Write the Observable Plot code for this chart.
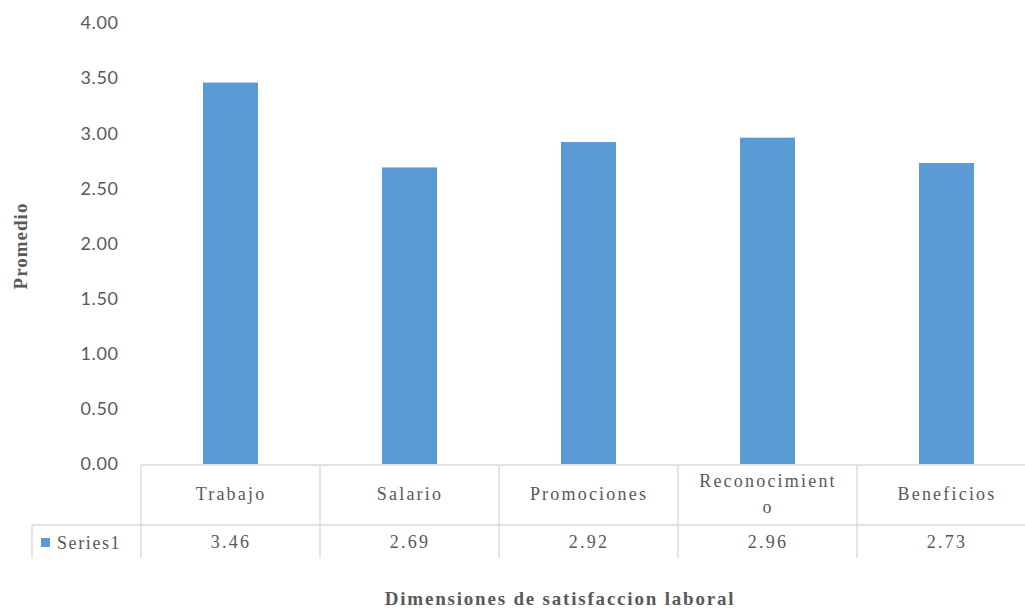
<!DOCTYPE html>
<html>
<head>
<meta charset="utf-8">
<script src="https://cdn.jsdelivr.net/npm/d3@7"></script>
<script src="https://cdn.jsdelivr.net/npm/@observablehq/plot@0.6"></script>
<style>
  html, body { margin: 0; padding: 0; background: #fff; overflow: hidden; }
  #chart { width: 1025px; height: 608px; overflow: hidden; }
  #chart svg { max-width: none !important; display: block; }
</style>
</head>
<body>
<div id="chart"></div>
<script>
// Mean score per job-satisfaction dimension
const categories = ["Trabajo", "Salario", "Promociones", "Reconocimiento", "Beneficios"];
const categoryLines = [["Trabajo"], ["Salario"], ["Promociones"], ["Reconocimient", "o"], ["Beneficios"]];
const values = [3.46, 2.69, 2.92, 2.96, 2.73];
const yTicks = [0, 0.5, 1, 1.5, 2, 2.5, 3, 3.5, 4];
const seriesName = "Series1";
const yTitle = "Promedio";
const xTitle = "Dimensiones de satisfaccion laboral";

const data = categories.map((c, i) => ({category: c, value: values[i], lines: categoryLines[i]}));
// one row per printed line of a category label
const labelLines = data.flatMap(d => d.lines.map((t, k) => ({category: d.category, text: t, row: k, n: d.lines.length})));

const W = 1040, H = 608;
const mTop = 23, mBottom = 144, mLeft = 140, mRight = 3;
const gray = "#595959", line = "#d9d9d9", blue = "#5b9bd5";
const serif = "'Liberation Serif', 'Times New Roman', serif";
const sans = "Lato, 'Open Sans', sans-serif";
const inner = 0.69;

const labelFont = {fontFamily: serif, fontSize: 18, fill: gray};

const plot = Plot.plot({
  width: W,
  height: H,
  marginTop: mTop,
  marginBottom: mBottom,
  marginLeft: mLeft,
  marginRight: mRight,
  style: {fontFamily: sans, fontSize: "18px", color: gray, background: "#fff", maxWidth: "none"},
  x: {domain: categories, paddingInner: inner, paddingOuter: inner / 2, axis: null},
  y: {domain: [0, 4], label: null, axis: null},
  marks: [
    Plot.barY(data, {x: "category", y: "value", fill: blue}),
    Plot.axisY({ticks: yTicks, tickFormat: d3.format(".2f"), tickSize: 0, tickPadding: 22, fontSize: 18, fill: gray, label: null}),
    // category row of the data table
    Plot.text(labelLines.filter(d => d.n === 1), {x: "category", text: "text", frameAnchor: "bottom", dy: 35, ...labelFont}),
    Plot.text(labelLines.filter(d => d.n > 1 && d.row === 0), {x: "category", text: "text", frameAnchor: "bottom", dy: 22, ...labelFont}),
    Plot.text(labelLines.filter(d => d.n > 1 && d.row === 1), {x: "category", text: "text", frameAnchor: "bottom", dy: 48, ...labelFont}),
    // value row of the data table
    Plot.text(data, {x: "category", text: d => d.value.toFixed(2), frameAnchor: "bottom", dy: 83, ...labelFont})
  ]
});

const svg = d3.select(plot);
// wide tracking on the table's serif text and the tick labels
svg.selectAll("g[aria-label='text'] text").attr("letter-spacing", 2.2);
svg.selectAll("g[aria-label='y-axis tick label'] text").attr("letter-spacing", 0.6);

// Data table grid and legend key, positioned from the plot's x band scale
const xs = plot.scale("x");
const bw = xs.bandwidth;
const step = xs.step;
const y0 = H - mBottom + 1;     // top border of the table
const y1 = y0 + 60;             // category row bottom
const y2 = y1 + 33;             // value row bottom
const edges = categories.map(c => xs.apply(c) - (step - bw) / 2);
edges.push(edges[edges.length - 1] + step);
const right = edges[edges.length - 1];
const g = svg.append("g").attr("stroke", line).attr("stroke-width", 1.3).attr("fill", "none");
g.append("line").attr("x1", edges[0]).attr("x2", right).attr("y1", y0).attr("y2", y0);
g.append("line").attr("x1", 32).attr("x2", right).attr("y1", y1).attr("y2", y1);
edges.forEach(e => g.append("line").attr("x1", e).attr("x2", e).attr("y1", y0).attr("y2", y2));
g.append("line").attr("x1", 32).attr("x2", 32).attr("y1", y1).attr("y2", y2);

// legend key + series name in the value row
svg.append("rect").attr("x", 41).attr("y", y1 + 13).attr("width", 9).attr("height", 9).attr("fill", blue);
svg.append("text").attr("x", 57).attr("y", y1 + 24).attr("text-anchor", "start")
  .attr("font-family", serif).attr("font-size", 18)
  .attr("letter-spacing", 1.6).attr("fill", gray).text(seriesName);

// axis titles
svg.append("text").attr("transform", `translate(27,246) rotate(-90)`)
  .attr("text-anchor", "middle").attr("font-family", serif).attr("font-weight", "bold").attr("font-size", 19)
  .attr("letter-spacing", 1).attr("fill", gray).text(yTitle);
svg.append("text").attr("x", 560).attr("y", 605).attr("text-anchor", "middle")
  .attr("font-family", serif).attr("font-weight", "bold").attr("font-size", 19).attr("letter-spacing", 1.8)
  .attr("fill", gray).text(xTitle);

document.getElementById("chart").append(plot);
</script>
</body>
</html>
